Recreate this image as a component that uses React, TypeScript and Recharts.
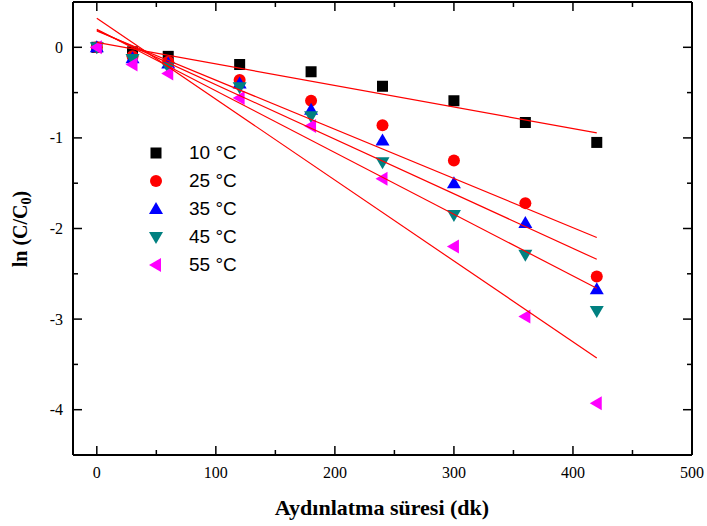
import React from 'react';
import { ComposedChart, Scatter, XAxis, YAxis, Legend } from 'recharts';

const times = [0, 30, 60, 120, 180, 240, 300, 360, 420];
const s10 = [0, -0.05, -0.1, -0.19, -0.27, -0.43, -0.59, -0.83, -1.05];
const s25 = [0, -0.1, -0.16, -0.36, -0.59, -0.86, -1.25, -1.72, -2.53];
const s35 = [0, -0.12, -0.18, -0.4, -0.69, -1.03, -1.5, -1.94, -2.67];
const s45 = [0, -0.13, -0.22, -0.44, -0.76, -1.27, -1.85, -2.29, -2.91];
const s55 = [0, -0.19, -0.29, -0.56, -0.87, -1.45, -2.2, -2.97, -3.93];

const fitX = [0, 420];
const fitStart = [0.055, 0.18, 0.19, 0.2, 0.32];
const fitEnd = [-0.945, -2.1, -2.34, -2.66, -3.43];

const seriesNames = ['10 °C', '25 °C', '35 °C', '45 °C', '55 °C'];
const seriesColors = ['#000000', '#FF0000', '#0000FF', '#008080', '#FF00FF'];
const seriesShapes = ['square', 'circle', 'up', 'down', 'left'];
const seriesValues = [s10, s25, s35, s45, s55];

const xTicks = [0, 50, 100, 150, 200, 250, 300, 350, 400, 450, 500];
const yTicks = [-4, -3.5, -3, -2.5, -2, -1.5, -1, -0.5, 0];
const xMajor = [0, 100, 200, 300, 400, 500];
const yMajor = [-4, -3, -2, -1, 0];

const W = 707;
const H = 526;
const SERIF = '"Liberation Serif", "Times New Roman", serif';
const SANS = '"Liberation Sans", Arial, sans-serif';

function marker(kind: string, cx: number, cy: number, color: string) {
  switch (kind) {
    case 'square':
      return <rect x={cx - 5.5} y={cy - 5.5} width={11} height={11} fill={color} />;
    case 'circle':
      return <circle cx={cx} cy={cy} r={6} fill={color} />;
    case 'up':
      return <polygon points={`${cx},${cy - 7} ${cx - 7},${cy + 5} ${cx + 7},${cy + 5}`} fill={color} />;
    case 'down':
      return <polygon points={`${cx},${cy + 7} ${cx - 7},${cy - 5} ${cx + 7},${cy - 5}`} fill={color} />;
    default:
      return <polygon points={`${cx - 7},${cy} ${cx + 5},${cy - 7} ${cx + 5},${cy + 7}`} fill={color} />;
  }
}

const BottomTick = (props: any) => {
  const { x, y, payload } = props;
  const v = payload.value;
  const major = xMajor.includes(v);
  return (
    <g>
      <line x1={x} x2={x} y1={y} y2={y - (major ? 9 : 5)} stroke="#000" strokeWidth={1.5} />
      {major && (
        <text x={x} y={y + 23} textAnchor="middle" fontFamily={SERIF} fontSize={16} fill="#000">
          {v}
        </text>
      )}
    </g>
  );
};

const TopTick = (props: any) => {
  const { x, y, payload } = props;
  const major = xMajor.includes(payload.value);
  return <line x1={x} x2={x} y1={y} y2={y + (major ? 9 : 5)} stroke="#000" strokeWidth={1.5} />;
};

const LeftTick = (props: any) => {
  const { x, y, payload } = props;
  const v = payload.value;
  const major = yMajor.includes(v);
  return (
    <g>
      <line x1={x} x2={x + (major ? 9 : 5)} y1={y} y2={y} stroke="#000" strokeWidth={1.5} />
      {major && (
        <text x={x - 10} y={y + 5.5} textAnchor="end" fontFamily={SERIF} fontSize={16} fill="#000">
          {String(v)}
        </text>
      )}
    </g>
  );
};

const RightTick = (props: any) => {
  const { x, y, payload } = props;
  const major = yMajor.includes(payload.value);
  return <line x1={x} x2={x - (major ? 9 : 5)} y1={y} y2={y} stroke="#000" strokeWidth={1.5} />;
};

const LegendContent = () => (
  <div style={{ width: 130 }}>
    {seriesNames.map((n, i) => (
      <div key={n} style={{ position: 'relative', height: 28 }}>
        <svg width={24} height={28} style={{ position: 'absolute', left: 0, top: 0 }}>
          {marker(seriesShapes[i], 10, 14, seriesColors[i])}
        </svg>
        <span
          style={{
            position: 'absolute',
            left: 43,
            top: 3,
            fontFamily: SANS,
            fontSize: 19,
            lineHeight: '22px',
            color: '#000',
            whiteSpace: 'nowrap',
          }}
        >
          {n}
        </span>
      </div>
    ))}
  </div>
);

const noShape = () => <g />;

export default function App() {
  const scatterData = seriesValues.map((vals) => times.map((t, i) => ({ x: t, y: vals[i] })));
  const fitData = fitStart.map((s, i) => [
    { x: fitX[0], y: s },
    { x: fitX[1], y: fitEnd[i] },
  ]);

  return (
    <div style={{ position: 'absolute', left: 0, top: 0, width: W, height: H, background: '#fff' }}>
      <ComposedChart width={W} height={H} margin={{ top: 1, right: 14, bottom: 70, left: 72 }}>
        <XAxis
          xAxisId="b"
          dataKey="x"
          type="number"
          domain={[-20, 500]}
          ticks={xTicks}
          interval={0}
          allowDataOverflow
          height={1}
          tickSize={0}
          tickMargin={0}
          tickLine={false}
          axisLine={{ stroke: '#000', strokeWidth: 2 }}
          tick={<BottomTick />}
        />
        <XAxis
          xAxisId="t"
          orientation="top"
          dataKey="x"
          type="number"
          domain={[-20, 500]}
          ticks={xTicks}
          interval={0}
          allowDataOverflow
          height={1}
          tickSize={0}
          tickMargin={0}
          tickLine={false}
          axisLine={{ stroke: '#000', strokeWidth: 2 }}
          tick={<TopTick />}
        />
        <YAxis
          yAxisId="l"
          dataKey="y"
          type="number"
          domain={[-4.5, 0.5]}
          ticks={yTicks}
          interval={0}
          allowDataOverflow
          width={1}
          tickSize={0}
          tickMargin={0}
          tickLine={false}
          axisLine={{ stroke: '#000', strokeWidth: 2 }}
          tick={<LeftTick />}
        />
        <YAxis
          yAxisId="r"
          orientation="right"
          dataKey="y"
          type="number"
          domain={[-4.5, 0.5]}
          ticks={yTicks}
          interval={0}
          allowDataOverflow
          width={1}
          tickSize={0}
          tickMargin={0}
          tickLine={false}
          axisLine={{ stroke: '#000', strokeWidth: 2 }}
          tick={<RightTick />}
        />
        <Scatter
          xAxisId="t"
          yAxisId="r"
          data={scatterData[0]}
          shape={noShape}
          isAnimationActive={false}
          legendType="none"
        />
        {scatterData.map((d, i) => (
          <Scatter
            key={'s' + i}
            name={seriesNames[i]}
            xAxisId="b"
            yAxisId="l"
            data={d}
            fill={seriesColors[i]}
            isAnimationActive={false}
            shape={(p: any) => marker(seriesShapes[i], p.cx, p.cy, seriesColors[i])}
          />
        ))}
        {fitData.map((d, i) => (
          <Scatter
            key={'f' + i}
            xAxisId="b"
            yAxisId="l"
            data={d}
            line={{ stroke: '#FF0000', strokeWidth: 1.2 }}
            shape={noShape}
            isAnimationActive={false}
            legendType="none"
          />
        ))}
        <Legend
          layout="horizontal"
          verticalAlign="middle"
          align="center"
          content={<LegendContent />}
          wrapperStyle={{ position: 'absolute', left: 146, top: 139, width: 130, height: 140 }}
        />
      </ComposedChart>
      <svg
        width={W}
        height={H}
        style={{ position: 'absolute', left: 0, top: 0, pointerEvents: 'none' }}
      >
        <text
          x={382}
          y={515}
          textAnchor="middle"
          fontFamily={SERIF}
          fontWeight="bold"
          fontSize={22}
          fill="#000"
        >
          Aydınlatma süresi (dk)
        </text>
        <text
          transform="translate(27,229) rotate(-90)"
          textAnchor="middle"
          fontFamily={SERIF}
          fontWeight="bold"
          fontSize={20}
          fill="#000"
        >
          ln (C/C<tspan fontSize={14} dy={4}>0</tspan>
          <tspan dy={-4}>)</tspan>
        </text>
      </svg>
    </div>
  );
}
